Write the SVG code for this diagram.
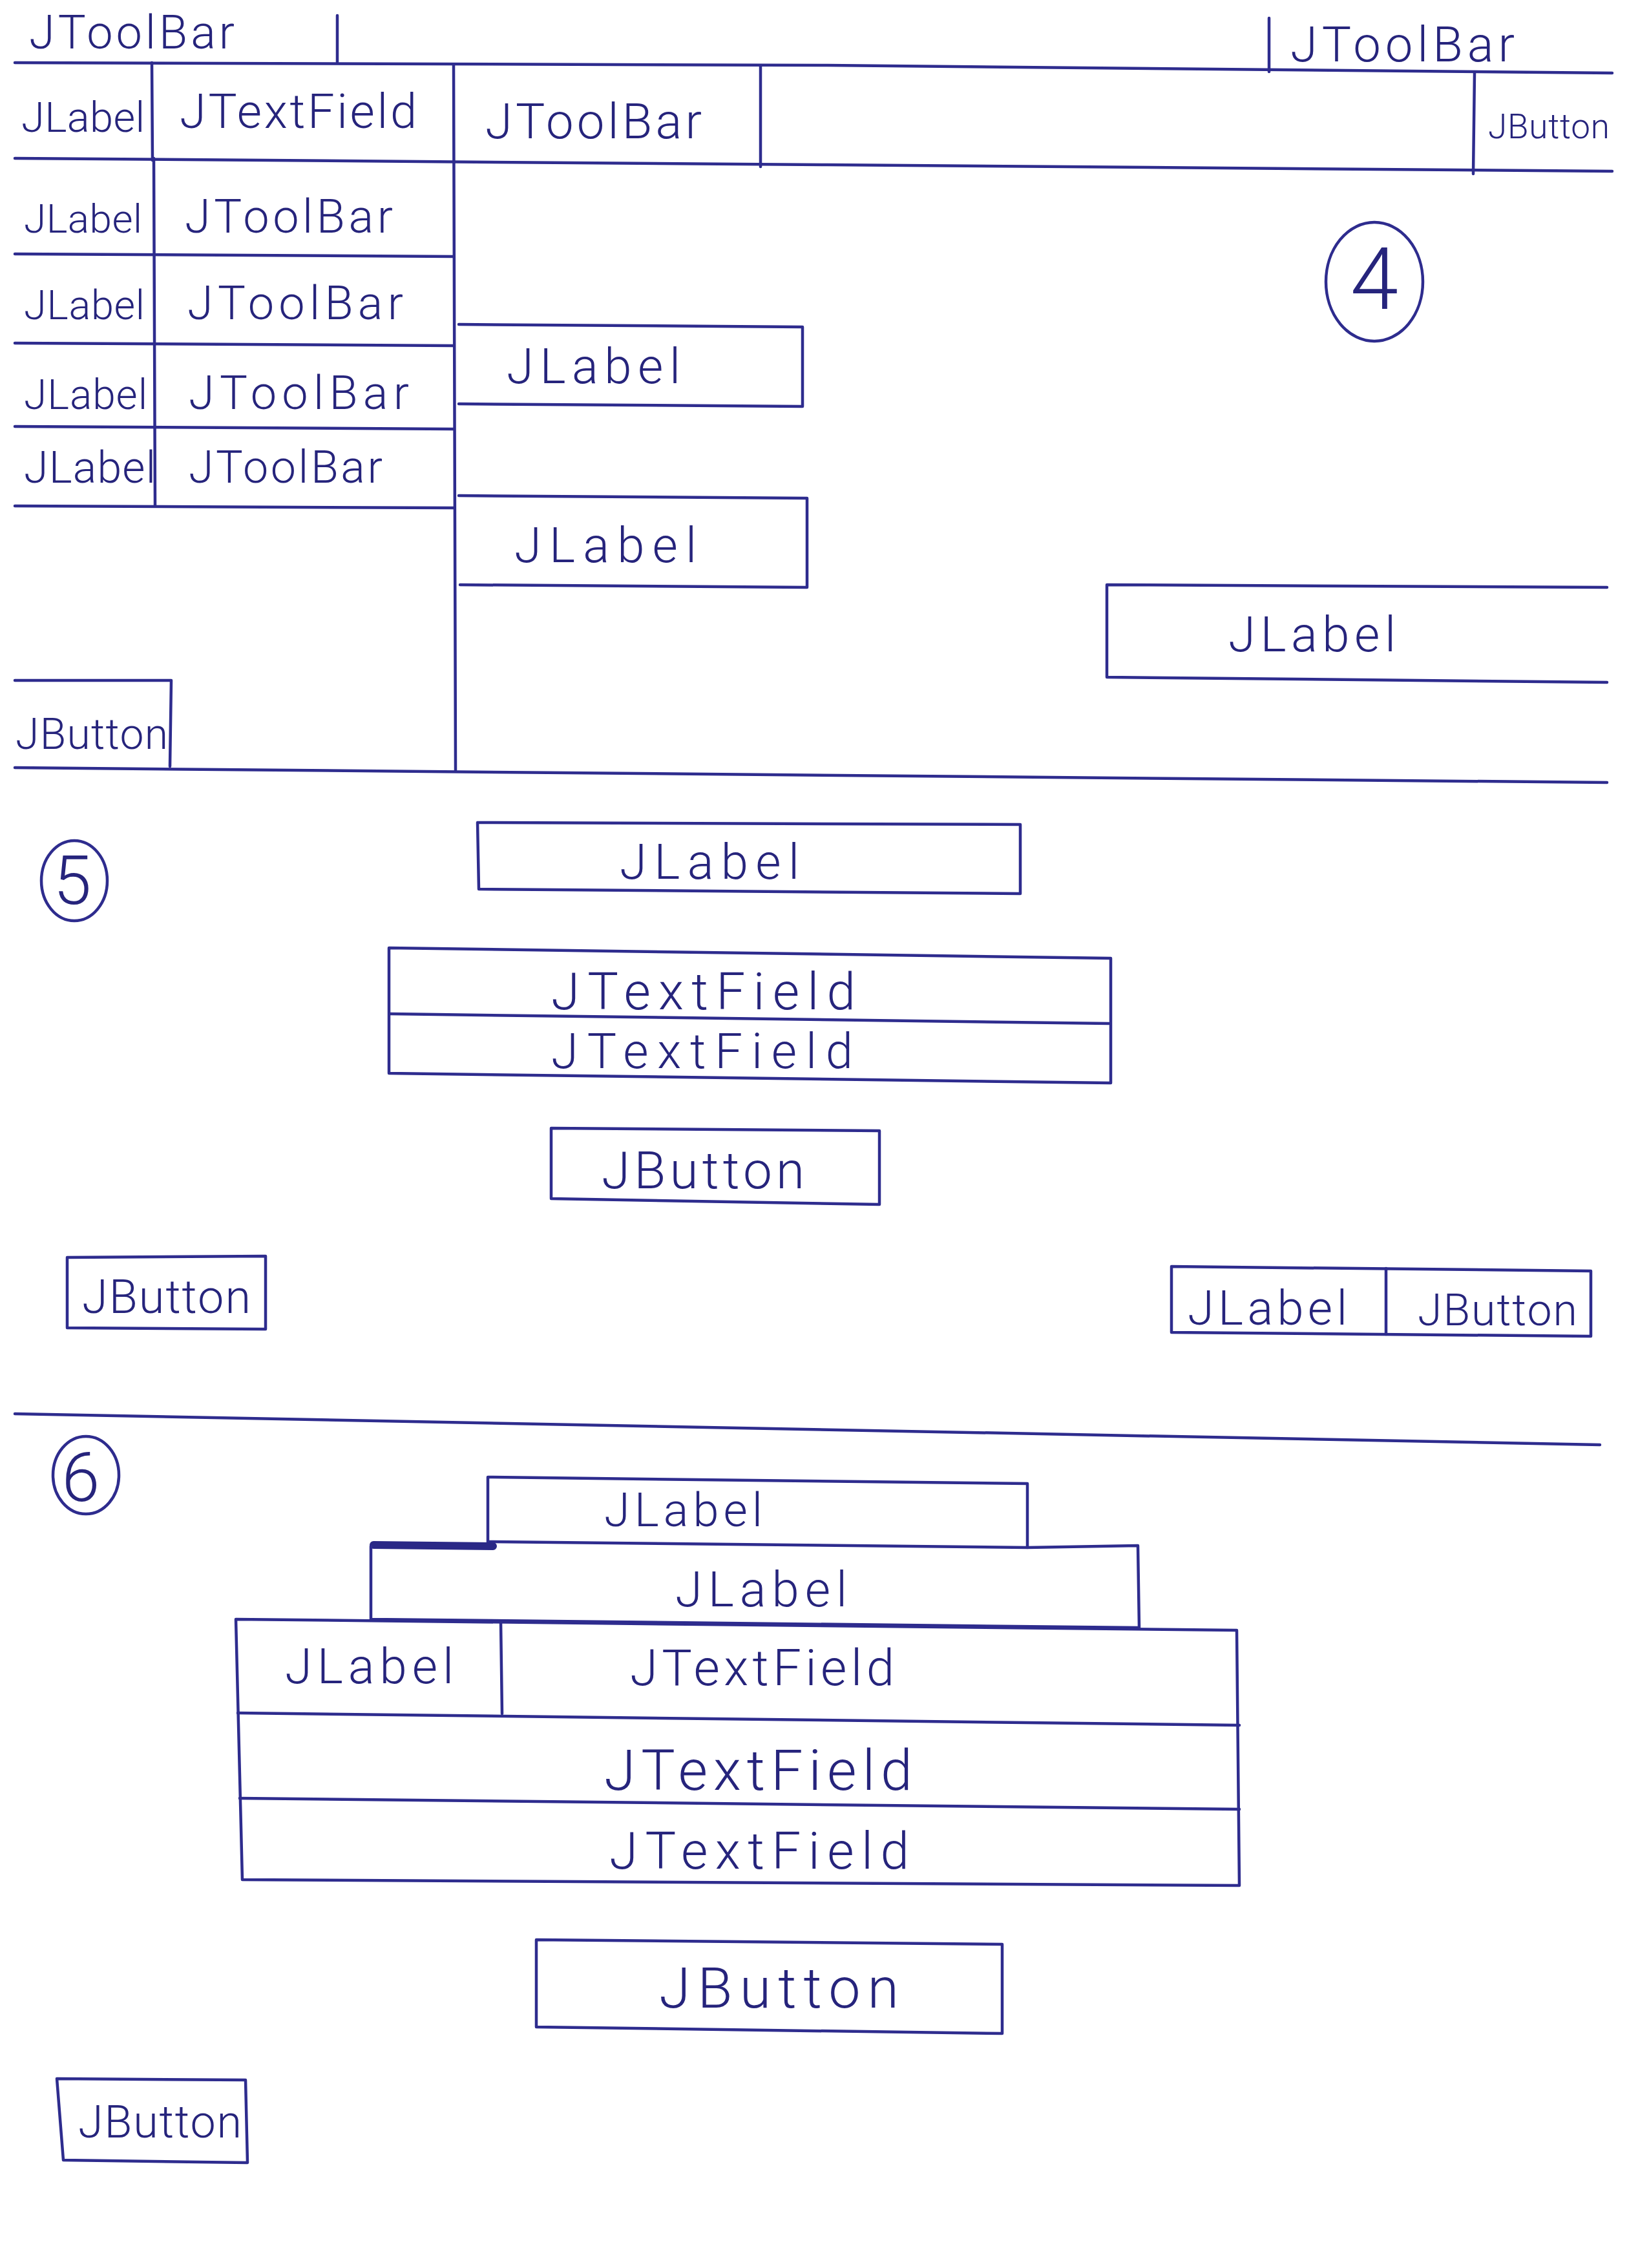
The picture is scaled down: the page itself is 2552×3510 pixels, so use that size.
<svg xmlns="http://www.w3.org/2000/svg" width="2552" height="3510" viewBox="0 0 2552 3510">
<style>
.ln{fill:none;stroke:#2e2c8e;stroke-width:4.5;stroke-linecap:round;stroke-linejoin:round}
.thick{fill:none;stroke:#2a2886;stroke-width:12;stroke-linecap:round}
.t{font-family:Roboto,"DejaVu Sans","Liberation Sans",sans-serif;font-weight:300;fill:#26247c}
.num{font-family:Roboto,"DejaVu Sans","Liberation Sans",sans-serif;font-weight:300;fill:#26247c;text-anchor:middle}
</style>
<rect width="2552" height="3510" fill="#ffffff"/>

<g id="section4">
  <g id="frame4">
    <path class="ln" d="M23,97 L1280,101 L2495,113"/>
    <path class="ln" d="M522,24 L522,96"/>
    <path class="ln" d="M1964,28 L1964,111"/>
    <path class="ln" d="M23,245 L1280,255 L2495,265"/>
    <path class="ln" d="M235,97 L236,248"/>
    <path class="ln" d="M702,100 L705,1192"/>
    <path class="ln" d="M1177,103 L1177,258"/>
    <path class="ln" d="M2282,113 L2280,269"/>
    <path class="ln" d="M23,1188 L2487,1211"/>
  </g>
  <g id="toolbar-top-left"><text class="t" x="45" y="75" font-size="72" textLength="318" lengthAdjust="spacing">JToolBar</text></g>
  <g id="toolbar-top-right"><text class="t" x="1997" y="95" font-size="76" textLength="347" lengthAdjust="spacing">JToolBar</text></g>
  <g id="row-label"><text class="t" x="33" y="204" font-size="65" textLength="191" lengthAdjust="spacing">JLabel</text></g>
  <g id="row-textfield"><text class="t" x="278" y="198" font-size="74" textLength="367" lengthAdjust="spacing">JTextField</text></g>
  <g id="row-toolbar"><text class="t" x="751" y="214" font-size="76" textLength="335" lengthAdjust="spacing">JToolBar</text></g>
  <g id="row-button"><text class="t" x="2303" y="214" font-size="53" textLength="188" lengthAdjust="spacing">JButton</text></g>

  <g id="left-rows">
    <path class="ln" d="M238,245 L240,783"/>
    <path class="ln" d="M23,393 L702,397"/>
    <path class="ln" d="M23,531 L702,535"/>
    <path class="ln" d="M23,660 L702,664"/>
    <path class="ln" d="M23,783 L702,786"/>
    <text class="t" x="37" y="360" font-size="62" textLength="183" lengthAdjust="spacing">JLabel</text>
    <text class="t" x="286" y="360" font-size="72" textLength="322" lengthAdjust="spacing">JToolBar</text>
    <text class="t" x="37" y="494" font-size="63" textLength="187" lengthAdjust="spacing">JLabel</text>
    <text class="t" x="290" y="494" font-size="72" textLength="334" lengthAdjust="spacing">JToolBar</text>
    <text class="t" x="37" y="633" font-size="64" textLength="191" lengthAdjust="spacing">JLabel</text>
    <text class="t" x="292" y="633" font-size="72" textLength="341" lengthAdjust="spacing">JToolBar</text>
    <text class="t" x="37" y="747" font-size="68" textLength="204" lengthAdjust="spacing">JLabel</text>
    <text class="t" x="292" y="747" font-size="70" textLength="300" lengthAdjust="spacing">JToolBar</text>
  </g>

  <g id="label-box-1">
    <path class="ln" d="M710,502 L1242,506 L1242,629 L710,625"/>
    <text class="t" x="784" y="593" font-size="76" textLength="269" lengthAdjust="spacing">JLabel</text>
  </g>
  <g id="label-box-2">
    <path class="ln" d="M710,767 L1249,771 L1249,909 L712,905"/>
    <text class="t" x="796" y="870" font-size="76" textLength="282" lengthAdjust="spacing">JLabel</text>
  </g>
  <g id="label-box-right">
    <path class="ln" d="M2487,909 L1713,905 L1713,1048 L2487,1056"/>
    <text class="t" x="1901" y="1008" font-size="76" textLength="259" lengthAdjust="spacing">JLabel</text>
  </g>
  <g id="button-4">
    <path class="ln" d="M23,1053 L265,1053 L263,1186"/>
    <text class="t" x="24" y="1159" font-size="66" textLength="236" lengthAdjust="spacing">JButton</text>
  </g>
  <g id="marker-4">
    <ellipse class="ln" cx="2127" cy="436" rx="75" ry="92"/>
    <text class="num" x="2127" y="478" font-size="134">4</text>
  </g>
</g>

<g id="section5">
  <g id="frame5">
    <path class="ln" d="M23,2188 L2476,2236"/>
  </g>
  <g id="marker-5">
    <ellipse class="ln" cx="115" cy="1363" rx="51" ry="62"/>
    <text class="num" x="112" y="1399" font-size="106">5</text>
  </g>
  <g id="label-5">
    <path class="ln" d="M739,1273 L1579,1276 L1579,1383 L741,1376 Z"/>
    <text class="t" x="959" y="1360" font-size="76" textLength="278" lengthAdjust="spacing">JLabel</text>
  </g>
  <g id="textfields-5">
    <path class="ln" d="M602,1467 L1719,1483 L1719,1676 L602,1661 Z"/>
    <path class="ln" d="M604,1569 L1716,1584"/>
    <text class="t" x="853" y="1562" font-size="80" textLength="471" lengthAdjust="spacing">JTextField</text>
    <text class="t" x="853" y="1653" font-size="76" textLength="467" lengthAdjust="spacing">JTextField</text>
  </g>
  <g id="button-5-center">
    <path class="ln" d="M853,1746 L1361,1750 L1361,1864 L853,1855 Z"/>
    <text class="t" x="931" y="1839" font-size="80" textLength="314" lengthAdjust="spacing">JButton</text>
  </g>
  <g id="button-5-left">
    <path class="ln" d="M104,1946 L411,1944 L411,2057 L104,2055 Z"/>
    <text class="t" x="127" y="2032" font-size="72" textLength="261" lengthAdjust="spacing">JButton</text>
  </g>
  <g id="label-button-5">
    <path class="ln" d="M1813,1960 L2462,1967 L2462,2068 L1813,2062 Z"/>
    <path class="ln" d="M2145,1963 L2145,2065"/>
    <text class="t" x="1838" y="2050" font-size="74" textLength="247" lengthAdjust="spacing">JLabel</text>
    <text class="t" x="2194" y="2051" font-size="68" textLength="247" lengthAdjust="spacing">JButton</text>
  </g>
</g>

<g id="section6">
  <g id="marker-6">
    <ellipse class="ln" cx="133" cy="2283" rx="51" ry="60"/>
    <text class="num" x="125" y="2323" font-size="106">6</text>
  </g>
  <g id="label-6-top">
    <path class="ln" d="M755,2388 L755,2286 L1590,2296 L1590,2395 L755,2386"/>
    <text class="t" x="935" y="2362" font-size="72" textLength="245" lengthAdjust="spacing">JLabel</text>
  </g>
  <g id="label-6-middle">
    <path class="thick" d="M578,2391 L763,2393"/>
    <path class="ln" d="M1590,2395 L1761,2392 L1763,2519 L574,2506 L574,2393"/>
    <text class="t" x="1045" y="2486" font-size="76" textLength="266" lengthAdjust="spacing">JLabel</text>
  </g>
  <g id="form-6">
    <path class="ln" d="M365,2506 L1914,2523 L1918,2918 L375,2909 Z"/>
    <path class="ln" d="M368,2651 L1918,2670"/>
    <path class="ln" d="M371,2783 L1918,2800"/>
    <path class="ln" d="M775,2510 L777,2652"/>
    <text class="t" x="441" y="2605" font-size="76" textLength="261" lengthAdjust="spacing">JLabel</text>
    <text class="t" x="975" y="2608" font-size="78" textLength="409" lengthAdjust="spacing">JTextField</text>
    <text class="t" x="935" y="2770" font-size="88" textLength="477" lengthAdjust="spacing">JTextField</text>
    <text class="t" x="943" y="2892" font-size="80" textLength="464" lengthAdjust="spacing">JTextField</text>
  </g>
  <g id="button-6-center">
    <path class="ln" d="M830,3002 L1551,3009 L1551,3147 L830,3137 Z"/>
    <text class="t" x="1020" y="3107" font-size="88" textLength="371" lengthAdjust="spacing">JButton</text>
  </g>
  <g id="button-6-left">
    <path class="ln" d="M88,3217 L380,3219 L383,3347 L98,3343 Z"/>
    <text class="t" x="121" y="3308" font-size="70" textLength="253" lengthAdjust="spacing">JButton</text>
  </g>
</g>
</svg>
